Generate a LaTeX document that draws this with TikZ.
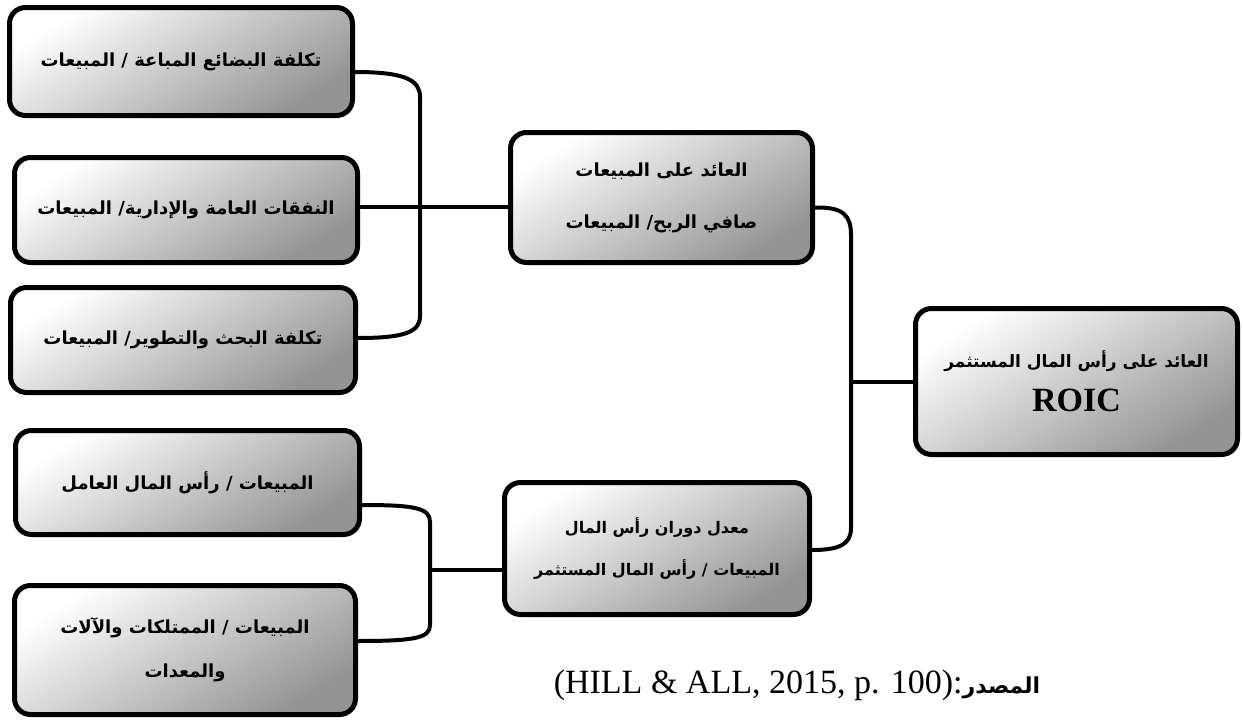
\documentclass[tikz,border=0pt]{standalone}
\usepackage{fontspec}
\setmainfont{Liberation Serif}
\newfontfamily\arabicfont[Script=Arabic]{DejaVu Sans}
\TeXXeTstate=1
\usetikzlibrary{calc}
\begin{document}
\begin{tikzpicture}[x=1pt,y=-1pt,
  box/.style={draw=black, line width=5pt, rounded corners=16pt,
    top color=white, middle color=black!12, bottom color=black!42,
    shading angle=32,
    inner sep=0pt, align=center,
    font=\arabicfont\bfseries\fontsize{18pt}{44pt}\selectfont},
  link/.style={draw=black, line width=4pt}]
\useasboundingbox (0,0) rectangle (1243,720);

% spines of the three brackets
\coordinate (sp1) at (420,0);
\coordinate (sp2) at (851,0);
\coordinate (sp3) at (430,0);

% left column: ratios
\node[box, minimum width=343pt, minimum height=108pt] (b1) at (181,61.5)
  {\beginR تكلفة البضائع المباعة / المبيعات\endR};
\node[box, minimum width=343pt, minimum height=105pt] (b2) at (186,210)
  {\beginR النفقات العامة والإدارية/ المبيعات\endR};
\node[box, minimum width=345pt, minimum height=105pt] (b3) at (183,340)
  {\beginR تكلفة البحث والتطوير/ المبيعات\endR};
\node[box, minimum width=344pt, minimum height=104pt] (b4) at (187.5,482.5)
  {\beginR المبيعات / رأس المال العامل\endR};
\node[box, minimum width=341pt, minimum height=129pt] (b5) at (185,650)
  {\beginR المبيعات / الممتلكات والآلات\endR\\\beginR والمعدات\endR};

% middle column
\node[box, minimum width=302pt, minimum height=130pt,
      font=\arabicfont\bfseries\fontsize{18pt}{52pt}\selectfont] (m1) at (661.5,197.5)
  {\beginR العائد على المبيعات\endR\\\beginR صافي الربح/ المبيعات\endR};
\node[box, minimum width=305pt, minimum height=132pt,
      font=\arabicfont\bfseries\fontsize{16pt}{42pt}\selectfont] (m2) at (657,548.5)
  {\beginR معدل دوران رأس المال\endR\\\beginR المبيعات / رأس المال المستثمر\endR};

% result
\node[box, minimum width=322pt, minimum height=146pt,
      font=\arabicfont\bfseries\fontsize{17pt}{44pt}\selectfont] (r) at (1076.5,381.5)
  {\beginR العائد على رأس المال المستثمر\endR\\
   {\rmfamily\bfseries\fontsize{34pt}{44pt}\selectfont ROIC}};

% bracket: three cost ratios -> return on sales
\draw[link] ($(b1.east)+(0,10.5)$) .. controls (405,72) and (420,80) .. (420,97)
  -- (420,316) .. controls (420,332) and (405,338) .. ($(b3.east)+(0,-2)$);
\draw[link] ($(b2.east)+(0,-3)$) coordinate (t2) -- (t2 -| m1.west);

% bracket: return on sales and capital turnover -> ROIC
\draw[link] ($(m1.east)+(0,10)$) .. controls (843,207) and (851,215) .. (851,235)
  -- (851,528) .. controls (851,544) and (840,550) .. ($(m2.east)+(0,1.5)$);
\draw[link] (r.west) -- (r.west -| sp2);

% bracket: two turnover ratios -> capital turnover
\draw[link] ($(b4.east)+(0,22.5)$) .. controls (415,505) and (430,508) .. (430,522)
  -- (430,625) .. controls (430,638) and (415,641) .. ($(b5.east)+(0,-9)$);
\draw[link] ($(m2.west)+(0,21.5)$) coordinate (t5) -- (t5 -| sp3);

% source line (a single Arabic word is shaped right to left on its own)
\node[anchor=base, inner sep=0pt] (src) at (797,693)
  {\fontsize{34pt}{40pt}\selectfont (HILL \& ALL, 2015, p. 100):{\arabicfont\bfseries\fontsize{22pt}{26pt}\selectfont المصدر}};
\end{tikzpicture}
\end{document}
